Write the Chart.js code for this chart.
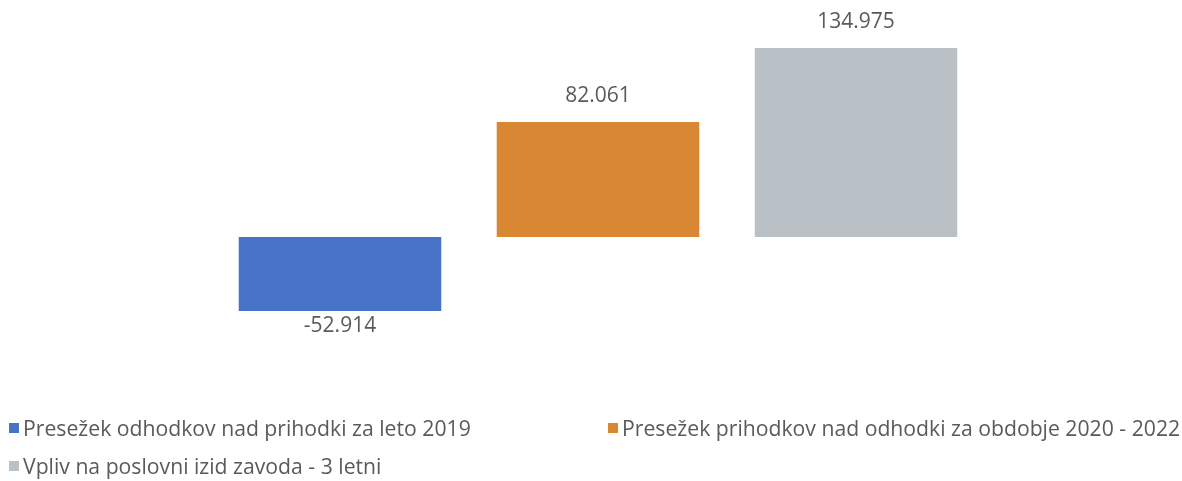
<!DOCTYPE html>
<html>
<head>
<meta charset="utf-8">
<script src="https://cdn.jsdelivr.net/npm/chart.js@4/dist/chart.umd.min.js"></script>
<style>
  html, body { margin: 0; padding: 0; background: #fff; }
  #wrap { position: relative; width: 1182px; height: 481px; }
  canvas { position: absolute; left: 0; top: 0; }
  .leg { position: absolute; font-family: "Open Sans", sans-serif; font-size: 21.2px; line-height: 24px; color: #5a5a5a; white-space: nowrap; display: flex; align-items: center; }
  .leg i { display: inline-block; width: 10px; height: 10px; margin-right: 4px; }
</style>
</head>
<body>
<div id="wrap">
  <canvas id="c" width="1182" height="481"></canvas>
</div>
<script>
const categories = ["2019", "2020 - 2022", "3 letni"];
const seriesLabels = [
  "Presežek odhodkov nad prihodki za leto 2019",
  "Presežek prihodkov nad odhodki za obdobje 2020 - 2022",
  "Vpliv na poslovni izid zavoda - 3 letni"
];
const seriesValues = [-52914, 82061, 134975];
const seriesColors = ["#4673C6", "#DA8733", "#BAC1C6"];

function fmt(v) {
  const s = Math.abs(v).toString().replace(/\B(?=(\d{3})+(?!\d))/g, ".");
  return (v < 0 ? "-" : "") + s;
}

const datasets = seriesLabels.map((lab, i) => ({
  label: lab,
  data: categories.map((c, j) => (j === i ? seriesValues[i] : null)),
  backgroundColor: seriesColors[i],
  borderWidth: 0
}));

const valueLabels = {
  id: 'valueLabels',
  afterDatasetsDraw(chart) {
    const ctx = chart.ctx;
    ctx.save();
    ctx.font = '21px "Open Sans", sans-serif';
    ctx.fillStyle = '#5a5a5a';
    ctx.textAlign = 'center';
    ctx.textBaseline = 'middle';
    chart.data.datasets.forEach((ds, di) => {
      const meta = chart.getDatasetMeta(di);
      meta.data.forEach((el, j) => {
        const v = ds.data[j];
        if (v === null || v === undefined) return;
        if (v >= 0) {
          ctx.fillText(fmt(v), el.x, el.y - 26);
        } else {
          ctx.fillText(fmt(v), el.x, el.y + 15);
        }
      });
    });
    ctx.restore();
  }
};

new Chart(document.getElementById('c'), {
  type: 'bar',
  data: { labels: categories, datasets },
  options: {
    responsive: false,
    animation: false,
    layout: { padding: { left: 211, right: 197, top: 27, bottom: 104 } },
    datasets: { bar: { grouped: false, categoryPercentage: 1, barPercentage: 0.785 } },
    scales: {
      x: { display: false },
      y: { display: false, min: -100000, max: 150000 }
    },
    plugins: { legend: { display: false }, tooltip: { enabled: false } }
  },
  plugins: [valueLabels]
});

const legPos = [[9, 416], [608, 416], [9, 454]];
const wrap = document.getElementById('wrap');
seriesLabels.forEach((lab, i) => {
  const d = document.createElement('div');
  d.className = 'leg';
  d.style.left = legPos[i][0] + 'px';
  d.style.top = legPos[i][1] + 'px';
  const sw = document.createElement('i');
  sw.style.background = seriesColors[i];
  d.appendChild(sw);
  d.appendChild(document.createTextNode(lab));
  wrap.appendChild(d);
});
</script>
</body>
</html>
